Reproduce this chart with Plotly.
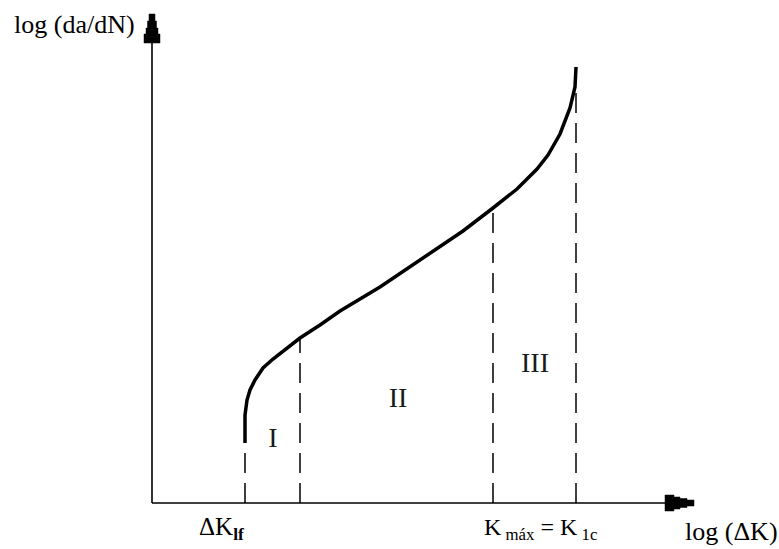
import plotly.graph_objects as go

# Schematic fatigue crack growth curve, units: log(dK) vs log(da/dN), arbitrary
curve_x = [9.3, 9.3, 9.5, 9.8, 10.3, 11.1, 12.1, 13.5, 14.8, 16.8, 18.8, 22.8,
           26.1, 27.8, 31.1, 34.1, 36.5, 38.5, 39.6, 40.8, 41.8, 42.3, 42.4]
curve_y = [6.0, 8.8, 10.3, 11.3, 12.3, 13.5, 14.4, 15.5, 16.5, 17.8, 19.2, 21.6,
           23.8, 24.9, 27.2, 29.5, 31.4, 33.4, 34.8, 36.9, 39.5, 41.6, 43.6]

# Region boundaries (dashed) and their top on the curve
boundary_x = [9.3, 14.8, 34.1, 42.4]
boundary_top = [6.0, 16.5, 29.5, 41.6]

# Region labels
region_names = ["I", "II", "III"]
region_x = [12.1, 24.6, 38.3]
region_y = [6.3, 10.3, 13.8]

# Axis ends
x_axis_end = 54.2
y_axis_end = 49.1

FONT = "Liberation Serif"

fig = go.Figure()

# axes
fig.add_trace(go.Scatter(x=[0, x_axis_end - 2], y=[0, 0], mode="lines",
                         line=dict(color="black", width=1.6), hoverinfo="skip"))
fig.add_trace(go.Scatter(x=[0, 0], y=[0, y_axis_end - 2], mode="lines",
                         line=dict(color="black", width=1.6), hoverinfo="skip"))


def arrow_path(tip, direction):
    # stepped arrow head, (length, half width) per step
    steps = [(0.7, 0.3), (0.7, 0.45), (0.6, 0.6), (0.9, 0.8)]
    tx, ty = tip
    pts_a, pts_b = [], []
    d = 0.0
    for length, hw in steps:
        for dd in (d, d + length):
            if direction == "up":
                pts_a.append((tx - hw, ty - dd))
                pts_b.append((tx + hw, ty - dd))
            else:
                pts_a.append((tx - dd, ty + hw))
                pts_b.append((tx - dd, ty - hw))
        d += length
    pts = pts_a + pts_b[::-1]
    return "M " + " L ".join(f"{x},{y}" for x, y in pts) + " Z"


fig.add_shape(type="path", path=arrow_path((0, y_axis_end - 0.2), "up"),
              fillcolor="black", line=dict(color="black", width=0.5))
fig.add_shape(type="path", path=arrow_path((x_axis_end, 0), "right"),
              fillcolor="black", line=dict(color="black", width=0.5))

# dashed boundaries
for bx, bt in zip(boundary_x, boundary_top):
    fig.add_trace(go.Scatter(x=[bx, bx], y=[0, bt], mode="lines",
                             line=dict(color="black", width=1.5, dash="20px,10px"),
                             hoverinfo="skip"))

# the curve
fig.add_trace(go.Scatter(x=curve_x, y=curve_y, mode="lines",
                         line=dict(color="black", width=3.5, shape="linear"),
                         hoverinfo="skip"))

# region labels
fig.add_trace(go.Scatter(x=region_x, y=region_y, mode="text", text=region_names,
                         textfont=dict(family=FONT, size=28, color="#1a1a1a"),
                         hoverinfo="skip"))

fig.add_annotation(x=-14.0, y=47.9, text="log (da/dN)", showarrow=False,
                   xanchor="left", yanchor="middle",
                   font=dict(family=FONT, size=26, color="black"))
fig.add_annotation(x=53.1, y=-2.8, text="log (ΔK)", showarrow=False,
                   xanchor="left", yanchor="middle",
                   font=dict(family=FONT, size=26, color="black"))
fig.add_annotation(x=4.5, y=-2.5, text="ΔK<sub><b>lf</b></sub>", showarrow=False,
                   xanchor="left", yanchor="middle",
                   font=dict(family=FONT, size=25, color="black"))
fig.add_annotation(x=33.0, y=-2.6, text="K<sub> máx</sub> = K<sub> 1c</sub>", showarrow=False,
                   xanchor="left", yanchor="middle",
                   font=dict(family=FONT, size=24, color="black"))

fig.update_xaxes(range=[-15.2, 62.7], visible=False, fixedrange=True)
fig.update_yaxes(range=[-4.6, 50.3], visible=False, fixedrange=True)
fig.update_layout(
    width=779,
    height=549,
    margin=dict(l=0, r=0, t=0, b=0, pad=0),
    showlegend=False,
    plot_bgcolor="white",
    paper_bgcolor="white",
)

# drop the default page margin so the figure fills the window
fig.write_html("out.html", config={"displayModeBar": False},
               post_script="document.body.style.margin = '0';")
